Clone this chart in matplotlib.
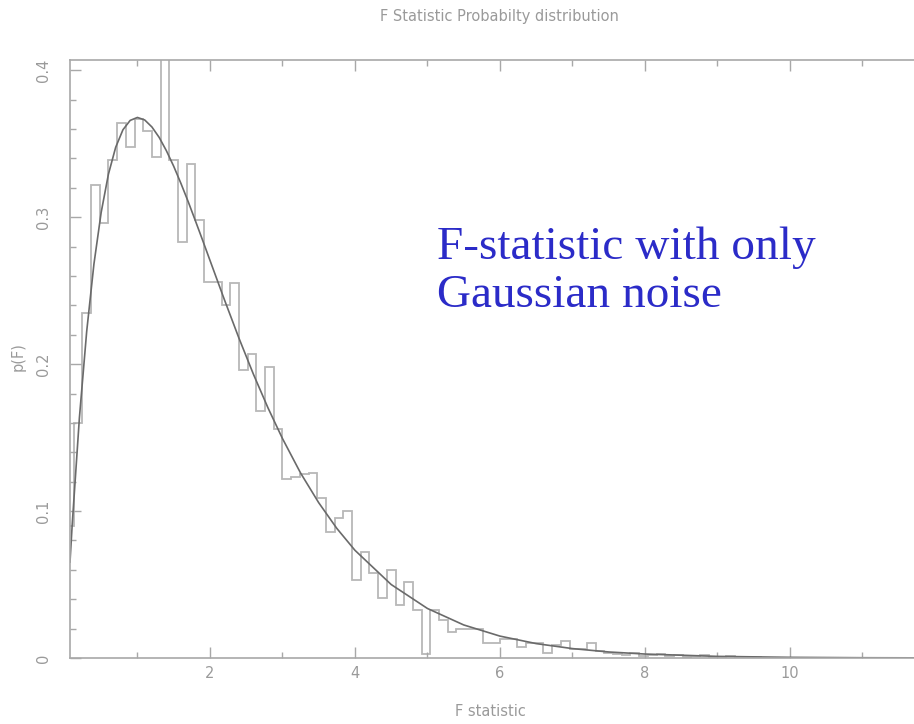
import matplotlib
matplotlib.use("Agg")
import matplotlib.pyplot as plt
from matplotlib.ticker import MultipleLocator

# ---- data ----
bin_width = 0.12
hist_values = [
    0.090, 0.160, 0.235, 0.322, 0.296, 0.339, 0.364, 0.348, 0.367, 0.359,
    0.341, 0.450, 0.339, 0.283, 0.336, 0.298, 0.256, 0.256, 0.240, 0.255,
    0.196, 0.207, 0.168, 0.198, 0.156, 0.122, 0.123, 0.125, 0.126, 0.109,
    0.086, 0.095, 0.100, 0.053, 0.072, 0.058, 0.041, 0.060, 0.036, 0.052,
    0.033, 0.003, 0.033, 0.026, 0.018, 0.0195, 0.020, 0.0195, 0.0104, 0.0104,
    0.0128, 0.0128, 0.0077, 0.010, 0.010, 0.0032, 0.0086, 0.0113, 0.006, 0.006,
    0.010, 0.0045, 0.0032, 0.003, 0.002, 0.0035, 0.0015, 0.002, 0.003, 0.0015,
    0.002, 0.001, 0.0015, 0.002, 0.0008, 0.001, 0.0012, 0.0005, 0.0008, 0.0004,
    0.0003,
]
hist_edges = [bin_width * k for k in range(len(hist_values) + 1)]

curve_F = [0.07, 0.1, 0.2, 0.3, 0.4, 0.5, 0.6, 0.7, 0.8, 0.9, 1.0, 1.1, 1.2,
           1.3, 1.4, 1.5, 1.6, 1.7, 1.8, 1.9, 2.0, 2.2, 2.4, 2.6, 2.8, 3.0,
           3.25, 3.5, 3.75, 4.0, 4.5, 5.0, 5.5, 6.0, 6.5, 7.0, 7.5, 8.0,
           9.0, 10.0, 11.0, 12.0]
curve_p = [0.0653, 0.0905, 0.1637, 0.2222, 0.2681, 0.3033, 0.3293, 0.3476,
           0.3595, 0.3659, 0.3679, 0.3662, 0.3614, 0.3543, 0.3452, 0.3347,
           0.3230, 0.3106, 0.2975, 0.2842, 0.2707, 0.2438, 0.2177, 0.1931,
           0.1703, 0.1494, 0.1259, 0.1057, 0.0882, 0.0733, 0.0500, 0.0337,
           0.0225, 0.0149, 0.0098, 0.0064, 0.0041, 0.0027, 0.0011, 0.00045,
           0.00018, 0.00007]

x_major = [2, 4, 6, 8, 10]
y_major = [0, 0.1, 0.2, 0.3, 0.4]
y_labels = ["0", "0.1", "0.2", "0.3", "0.4"]

# ---- figure ----
W, H = 914, 724
fig = plt.figure(figsize=(W / 100, H / 100), dpi=100)
ax = fig.add_axes([70 / W, (H - 658) / H, (935 - 70) / W, (658 - 60) / H])

grey_txt = "#9a9a9a"
grey_axis = "#a8a8a8"

ax.stairs(hist_values, hist_edges, color="#b8b8b8", linewidth=1.3, baseline=None)
ax.plot(curve_F, curve_p, color="#6a6a6a", linewidth=1.2)

ax.set_xlim(0.07, 12.0)
ax.set_ylim(0, 0.407)

for side in ["left", "bottom", "top", "right"]:
    ax.spines[side].set_color(grey_axis)
    ax.spines[side].set_linewidth(1.2)

ax.set_xticks(x_major)
ax.xaxis.set_minor_locator(MultipleLocator(1))
ax.set_yticks(y_major)
ax.set_yticklabels(y_labels)
ax.yaxis.set_minor_locator(MultipleLocator(0.02))

ax.tick_params(axis="both", which="both", direction="in", colors=grey_axis,
               labelcolor=grey_txt, labelsize=10.5, top=True, right=False)
ax.tick_params(axis="x", which="major", length=8, width=1, pad=6)
ax.tick_params(axis="x", which="minor", length=4, width=1)
ax.tick_params(axis="y", which="major", length=8, width=1, pad=14)
ax.tick_params(axis="y", which="minor", length=4, width=1)
for lbl in ax.get_yticklabels():
    lbl.set_rotation(90)
    lbl.set_va("center")

fig.text(499 / W, 1 - 17 / H, "F Statistic Probabilty distribution",
         ha="center", va="center", color=grey_txt, fontsize=10.5)
fig.text(490 / W, 1 - 712 / H, "F statistic", ha="center", va="center",
         color=grey_txt, fontsize=10.5)
fig.text(18 / W, 1 - 357 / H, "p(F)", ha="center", va="center",
         color=grey_txt, fontsize=10.5, rotation=90)

blue = "#2b2bc8"
fig.text(437 / W, 1 - 259 / H, "F-statistic with only",
         ha="left", va="baseline", color=blue, fontsize=34,
         family="Liberation Serif")
fig.text(437 / W, 1 - 307 / H, "Gaussian noise",
         ha="left", va="baseline", color=blue, fontsize=34,
         family="Liberation Serif")

fig.savefig("out.png", dpi=100)
